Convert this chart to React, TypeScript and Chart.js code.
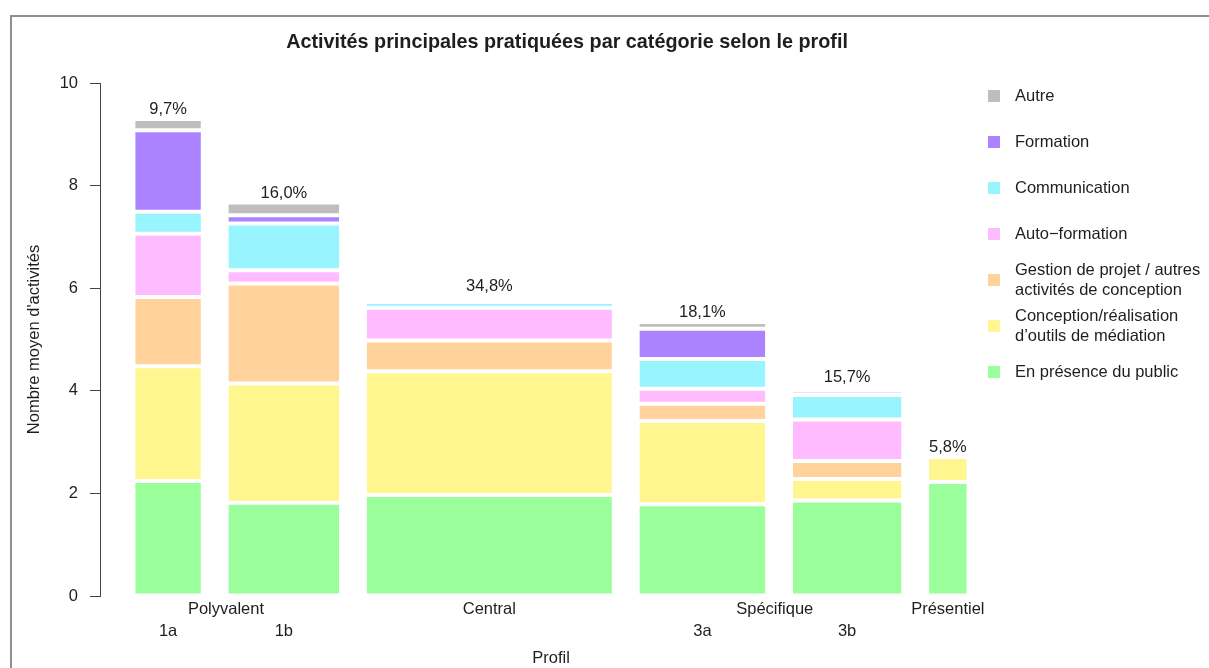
import React, { useEffect, useRef } from 'react';
import { Chart, registerables } from 'chart.js';

Chart.register(...registerables);

const FONT = '"Liberation Sans", Arial, Helvetica, sans-serif';
const TEXT = '#1e1e1e';

// Profiles (bars), their share of respondents (bar widths)
const profiles = ['1a', '1b', 'Central', '3a', '3b', 'Présentiel'];
const shares = [9.7, 16.0, 34.8, 18.1, 15.7, 5.8];
const subLabels = ['1a', '1b', '', '3a', '3b', ''];
const groupNames = ['Polyvalent', 'Central', 'Spécifique', 'Présentiel'];
const groupMembers = [[0, 1], [2], [3, 4], [5]];

// Mean number of activities per category (bottom to top of each bar)
const categories = [
  'En présence du public',
  'Conception/réalisation\nd’outils de médiation',
  'Gestion de projet / autres\nactivités de conception',
  'Auto−formation',
  'Communication',
  'Formation',
  'Autre',
];
const presence = [2.24, 1.82, 1.97, 1.79, 1.86, 2.22];
const conception = [2.24, 2.32, 2.41, 1.62, 0.42, 0.49];
const gestion = [1.35, 1.95, 0.6, 0.34, 0.35, 0];
const autoformation = [1.23, 0.26, 0.64, 0.29, 0.81, 0];
const communication = [0.43, 0.91, 0.11, 0.58, 0.48, 0];
const formation = [1.59, 0.16, 0.06, 0.59, 0.08, 0];
const autre = [0.22, 0.25, 0.06, 0.13, 0.07, 0];
const colors = ['#9AFF9A', '#FFF68F', '#FFD39B', '#FFBBFF', '#98F5FF', '#AB82FF', '#BEBEBE'];

const yTicks = [0, 2, 4, 6, 8, 10];

const series = [presence, conception, gestion, autoformation, communication, formation, autre];

// barplot-like geometry (width = share, space = 0.2 of mean width)
const space = (0.2 * shares.reduce((a, b) => a + b, 0)) / shares.length;
const centers: number[] = [];
let cursor = 0;
shares.forEach((w) => {
  cursor += space;
  centers.push(cursor + w / 2);
  cursor += w;
});
const xMin = space - 0.04 * (cursor - space);
const xMax = cursor + 0.04 * (cursor - space);
const groupPositions = groupMembers.map((m) => m.reduce((a, i) => a + centers[i], 0) / m.length);
const subPositions = centers.filter((_, i) => subLabels[i] !== '');
const subNames = subLabels.filter((s) => s !== '');
const pctLabels = shares.map((s) => s.toFixed(1).replace('.', ',') + '%');
const totals = profiles.map((_, i) => series.reduce((a, s) => a + s[i], 0));

const pctPlugin = {
  id: 'pctLabels',
  afterDatasetsDraw(chart: any) {
    const { ctx, scales } = chart;
    const xs = scales.x;
    const ys = scales.y;
    ctx.save();
    ctx.font = `16.5px ${FONT}`;
    ctx.fillStyle = TEXT;
    ctx.textAlign = 'center';
    ctx.textBaseline = 'alphabetic';
    profiles.forEach((_, i) => {
      ctx.fillText(pctLabels[i], xs.getPixelForValue(centers[i]), ys.getPixelForValue(totals[i]) - 5);
    });
    ctx.restore();
  },
};

export default function App() {
  const canvasRef = useRef<HTMLCanvasElement | null>(null);

  useEffect(() => {
    if (!canvasRef.current) return;
    const tickFont = { family: FONT, size: 16.5 };
    const datasets = profiles.map((p, i) => {
      let acc = 0;
      const data = series.map((s) => {
        const lo = acc;
        acc += s[i];
        return { x: centers[i], y: [lo, acc] };
      });
      return {
        label: p,
        data,
        backgroundColor: colors,
        borderColor: '#ffffff',
        borderWidth: 2,
        borderSkipped: false,
        inflateAmount: 0,
        grouped: false,
        barThickness: (ctx: any) => {
          const xs = ctx.chart.scales.x;
          const w = Math.abs(xs.getPixelForValue(shares[i]) - xs.getPixelForValue(0));
          return isFinite(w) && w > 0 ? w : 10;
        },
      };
    });

    const chart = new Chart(canvasRef.current, {
      type: 'bar',
      data: { datasets } as any,
      options: {
        animation: false,
        responsive: false,
        devicePixelRatio: 1,
        layout: { padding: { left: 0, right: 207, top: 83, bottom: 0 } },
        plugins: {
          legend: { display: false },
          tooltip: { enabled: false },
          title: { display: false },
        },
        scales: {
          x: {
            type: 'linear',
            position: 'bottom',
            weight: 0,
            min: xMin,
            max: xMax,
            offset: false,
            grid: { display: false, drawTicks: false, tickLength: 0 },
            border: { display: false },
            afterBuildTicks: (s: any) => {
              s.ticks = groupPositions.map((v) => ({ value: v }));
            },
            afterFit: (s: any) => {
              s.height = 24;
            },
            ticks: {
              autoSkip: false,
              maxRotation: 0,
              minRotation: 0,
              padding: 3.5,
              color: TEXT,
              font: tickFont,
              callback: (_v: any, idx: number) => groupNames[idx],
            },
          },
          x2: {
            type: 'linear',
            position: 'bottom',
            weight: 1,
            min: xMin,
            max: xMax,
            offset: false,
            grid: { display: false, drawTicks: false, tickLength: 0 },
            border: { display: false },
            afterBuildTicks: (s: any) => {
              s.ticks = subPositions.map((v) => ({ value: v }));
            },
            afterFit: (s: any) => {
              s.height = 48;
            },
            ticks: {
              autoSkip: false,
              maxRotation: 0,
              minRotation: 0,
              padding: 2,
              color: TEXT,
              font: tickFont,
              callback: (_v: any, idx: number) => subNames[idx],
            },
            title: {
              display: true,
              text: 'Profil',
              color: TEXT,
              font: tickFont,
              padding: { top: 0, bottom: 0 },
            },
          },
          y: {
            type: 'linear',
            position: 'left',
            min: 0,
            max: 10,
            afterBuildTicks: (s: any) => {
              s.ticks = yTicks.map((v) => ({ value: v }));
            },
            afterFit: (s: any) => {
              s.width = 100;
            },
            grid: {
              display: true,
              drawOnChartArea: false,
              drawTicks: true,
              tickLength: 10,
              color: '#444444',
              lineWidth: 1,
            },
            border: { display: true, color: '#444444', width: 1 },
            ticks: { padding: 12, color: TEXT, font: tickFont },
            title: {
              display: true,
              text: "Nombre moyen d'activités",
              color: TEXT,
              font: tickFont,
              padding: { top: 25, bottom: 0 },
            },
          },
        },
      } as any,
      plugins: [pctPlugin],
    });
    return () => chart.destroy();
  }, []);

  const legendItems = categories
    .map((c, k) => ({ label: c, color: colors[k] }))
    .reverse();

  return (
    <div
      style={{
        position: 'absolute',
        left: 0,
        top: 0,
        width: 1209,
        height: 668,
        overflow: 'hidden',
        background: '#ffffff',
        fontFamily: FONT,
        color: TEXT,
      }}
    >
      <canvas
        ref={canvasRef}
        width={1209}
        height={668}
        style={{ position: 'absolute', left: 0, top: 0, width: 1209, height: 668 }}
      />
      <div
        style={{
          position: 'absolute',
          left: 10,
          top: 15,
          width: 1400,
          height: 800,
          borderLeft: '2px solid #8f8f8f',
          borderTop: '2px solid #8f8f8f',
          pointerEvents: 'none',
        }}
      />
      <div
        style={{
          position: 'absolute',
          left: 0,
          top: 29,
          width: 1134,
          textAlign: 'center',
          fontWeight: 'bold',
          fontSize: 19.8,
          lineHeight: '24px',
          whiteSpace: 'nowrap',
        }}
      >
        Activités principales pratiquées par catégorie selon le profil
      </div>
      {legendItems.map((it, i) => (
        <div
          key={i}
          style={{
            position: 'absolute',
            left: 988,
            top: 96 + i * 46 - 23,
            height: 46,
            width: 230,
            display: 'flex',
            alignItems: 'center',
          }}
        >
          <div style={{ width: 12, height: 12, background: it.color, flex: '0 0 auto' }} />
          <div
            style={{
              marginLeft: 15,
              fontSize: 16.5,
              lineHeight: '19.8px',
              whiteSpace: 'pre',
            }}
          >
            {it.label}
          </div>
        </div>
      ))}
    </div>
  );
}
